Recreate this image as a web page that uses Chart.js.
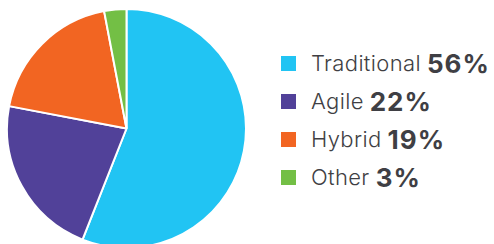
<!DOCTYPE html>
<html>
<head>
<meta charset="utf-8">
<script src="https://cdn.jsdelivr.net/npm/chart.js@4/dist/chart.umd.min.js"></script>
<style>
    html, body { margin: 0; padding: 0; background: #fff; width: 494px; height: 244px; overflow: hidden; }
    #pieWrap { position: absolute; left: 6px; top: 8px; width: 241px; height: 241px; }
    #legend { position: absolute; left: 281px; top: 44px; font-family: 'Inter', sans-serif; color: #3f3f44; }
    .row { display: flex; align-items: center; height: 38px; white-space: nowrap; }
    .box { width: 15px; height: 15px; margin-right: 15px; }
    .lbl { font-size: 22px; font-weight: 300; letter-spacing: 0.35px; }
    .pct { font-size: 26px; font-weight: 700; margin-left: 6px; letter-spacing: 1px; }
</style>
</head>
<body>
<div id="pieWrap"><canvas id="pieChart"></canvas></div>
<div id="legend"></div>
<script>
// chart data
const categories = ['Traditional', 'Agile', 'Hybrid', 'Other'];
const shares = [56, 22, 19, 3];
const colors = ['#21c4f3', '#514199', '#f26522', '#73bf45'];

document.addEventListener('DOMContentLoaded', function() {
    // Legend
    const legend = document.getElementById('legend');
    categories.forEach((name, i) => {
        const row = document.createElement('div');
        row.className = 'row';
        row.innerHTML = '<span class="box" style="background:' + colors[i] + '"></span>' +
            '<span class="lbl">' + name + '</span><span class="pct">' + shares[i] + '%</span>';
        legend.appendChild(row);
    });

    // Pie
    const ctx = document.getElementById('pieChart').getContext('2d');
    new Chart(ctx, {
        type: 'pie',
        data: {
            labels: categories,
            datasets: [{
                data: shares,
                backgroundColor: colors,
                borderColor: '#ffffff',
                borderWidth: 2,
                hoverOffset: 0
            }]
        },
        options: {
            responsive: true,
            maintainAspectRatio: false,
            animation: false,
            layout: { padding: 0 },
            plugins: {
                legend: { display: false },
                tooltip: { enabled: false }
            }
        }
    });
});
</script>
</body>
</html>
